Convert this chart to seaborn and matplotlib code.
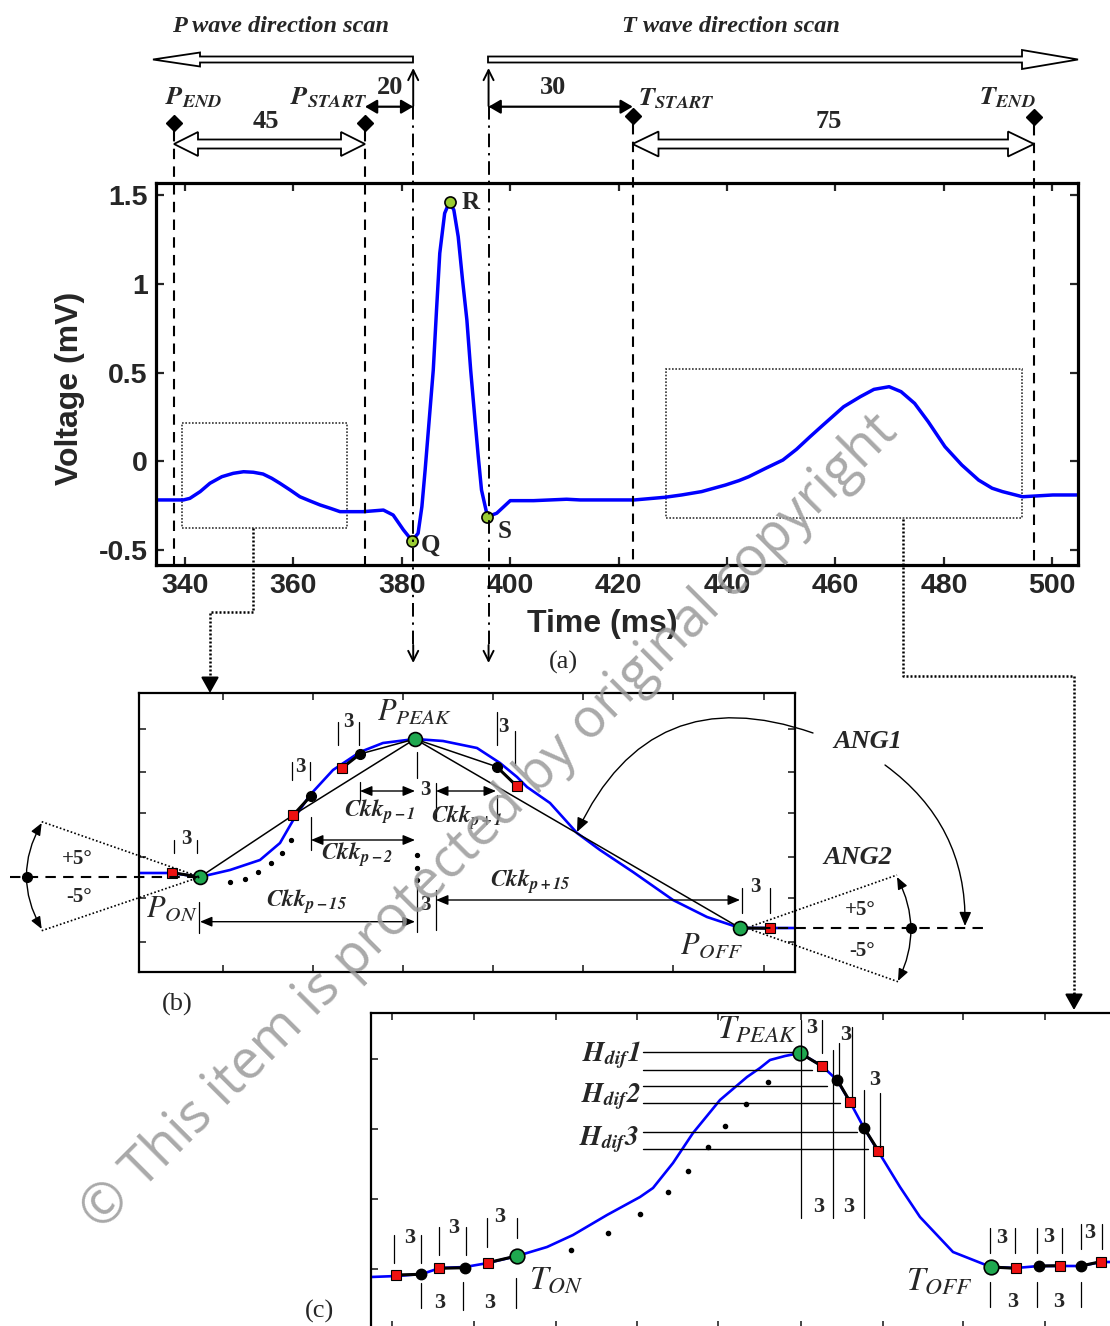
import numpy as np
import pandas as pd
import matplotlib
matplotlib.use("Agg")
import matplotlib.pyplot as plt
import seaborn as sns
from matplotlib.patches import Polygon, Rectangle
from matplotlib.transforms import blended_transform_factory

# ---------------- data: panel (a) ECG beat ----------------
ecg_time = [334.65, 339.7, 340.9, 342.8, 344.6, 346.8, 348.9, 350.8, 352.6, 354.4,
            356.0, 357.5, 359.4, 361.2, 363.1, 364.9, 366.8, 368.6, 372.9, 376.6,
            378.4, 380.3, 381.9, 383.0, 383.7, 384.3, 385.2, 385.8, 386.4, 387.0,
            387.9, 388.8, 389.6, 390.4, 391.2, 392.0, 392.7, 393.5, 394.1, 394.7,
            395.8, 397.5, 400.0, 404.3, 410.4, 412.9, 422.9, 428.5, 431.6, 435.3,
            439.7, 442.2, 444.0, 447.1, 450.3, 452.8, 455.3, 457.7, 461.5, 464.6,
            467.1, 469.9, 472.1, 474.6, 477.1, 480.2, 483.3, 486.4, 488.9, 490.8,
            494.5, 500.1, 504.8]
ecg_mv = [-0.218, -0.218, -0.209, -0.171, -0.124, -0.087, -0.068, -0.059, -0.062, -0.072,
          -0.096, -0.124, -0.162, -0.200, -0.224, -0.246, -0.265, -0.284, -0.284, -0.275,
          -0.303, -0.387, -0.448, -0.406, -0.256, -0.049, 0.289, 0.514, 0.852, 1.172,
          1.397, 1.462, 1.415, 1.265, 1.021, 0.796, 0.514, 0.232, 0.026, -0.162,
          -0.312, -0.293, -0.222, -0.222, -0.214, -0.218, -0.218, -0.203, -0.190, -0.171,
          -0.134, -0.109, -0.087, -0.040, 0.007, 0.067, 0.138, 0.204, 0.307, 0.364,
          0.405, 0.420, 0.392, 0.326, 0.223, 0.082, -0.021, -0.106, -0.152, -0.171,
          -0.200, -0.190, -0.190]
qrs_time = [381.9, 388.8, 395.8]
qrs_mv = [-0.448, 1.462, -0.312]
qrs_names = ["Q", "R", "S"]
a_xticks = [340, 360, 380, 400, 420, 440, 460, 480, 500]
a_yticks = [-0.5, 0, 0.5, 1, 1.5]
a_yticklabels = ["-0.5", "0", "0.5", "1", "1.5"]
marker_names = ["P_END", "P_START", "T_START", "T_END"]
marker_ms = [338.0, 373.2, 422.6, 496.6]
q_line_ms, s_line_ms = 382.1, 396.0
p_box_ms = [339.4, 369.9]
p_box_mv = [-0.378, 0.217]
t_box_ms = [428.7, 494.5]
t_box_mv = [-0.321, 0.518]
window_labels = ["45", "20", "30", "75"]

# ---------------- data: panel (b) P-wave schematic (panel units) ----------------
pwave_x = [139, 172, 200, 230, 260, 280, 295, 310, 333, 360, 383, 415, 443, 477, 500,
           517, 527, 550, 577, 600, 633, 673, 707, 740, 770, 795]
pwave_y = [873, 873, 877, 870, 860, 843, 817, 795, 770, 752, 743, 739, 741, 748, 763,
           777, 787, 803, 833, 850, 872, 900, 917, 928, 928, 928]
b_green_x = [200, 415, 740]
b_green_y = [877, 739, 928]
b_red_x = [172.3, 293.3, 341.7, 516.7, 770]
b_red_y = [872.7, 815, 768.3, 786, 928.3]
b_black_x = [311, 360, 496.7]
b_black_y = [795.7, 754, 766.7]
b_ell_x = [230, 245, 258.3, 270.7, 281.7, 291, 416.7, 416.7, 416.7]
b_ell_y = [881.7, 879, 871.7, 862.7, 852.7, 840, 855, 868.3, 880]
b_xticks = [223, 313, 403, 493, 583, 673, 764]
b_yticks = [729, 771.7, 813.3, 856.7, 898.3, 941.7]

# ---------------- data: panel (c) T-wave schematic (panel units) ----------------
twave_x = [371, 397, 422, 440, 465, 488, 517, 547, 573, 607, 640, 653, 673, 693, 720,
           747, 760, 770, 785, 800, 822, 837, 850, 864, 878, 900, 920, 953, 991, 1016,
           1039, 1060, 1081, 1101, 1115]
twave_y = [1277, 1276, 1274, 1268, 1267, 1263, 1256, 1247, 1235, 1215, 1197, 1188, 1163,
           1133, 1100, 1077, 1068, 1060, 1056, 1053, 1066, 1080, 1102, 1128, 1151, 1187,
           1217, 1252, 1267, 1268, 1266, 1266, 1266, 1262, 1262]
c_green_x = [516.7, 800, 991]
c_green_y = [1256, 1053, 1267]
c_red_x = [396, 439, 487.7, 821.7, 850, 878.3, 1016, 1060, 1100.7]
c_red_y = [1275, 1268.3, 1262.7, 1066, 1101.7, 1150.7, 1268.3, 1265.7, 1261.7]
c_black_x = [420.7, 465, 837.3, 864.3, 1038.7, 1080.7]
c_black_y = [1274.3, 1267.7, 1080, 1128.3, 1266, 1266]
c_ell_x = [570.7, 608.3, 640, 668.3, 688.3, 707.7, 725, 745.7, 768.3]
c_ell_y = [1250, 1232.7, 1214, 1192.3, 1170.7, 1146.7, 1126, 1103.7, 1081.7]
c_xticks = [391.7, 474.3, 556, 636.7, 718.3, 800.7, 882.7, 963.3, 1045, 1127]
c_yticks = [1059.3, 1129.3, 1199, 1269.3]
hdif_y = [1052, 1070, 1086, 1103, 1132, 1149]
hdif_xend = [800, 812, 827, 840, 857, 868]

# ---------------- figure setup ----------------
sns.set_theme(style="ticks")
plt.rcParams['font.family'] = ['Liberation Sans', 'DejaVu Sans']
plt.rcParams['mathtext.fontset'] = 'stix'

W, H = 1110, 1326
fig = plt.figure(figsize=(W / 100, H / 100), dpi=100)
fig.patch.set_facecolor('white')


def rect(l, t, r, b):
    return [l / W, 1 - b / H, (r - l) / W, (b - t) / H]


SERIF = ['Liberation Serif', 'DejaVu Serif']
BLUE = '#0000ff'
GREEN = '#1fa84f'
RED = '#ee1111'

# ---------------- panel (a) ----------------
ax_a = fig.add_axes(rect(156, 183, 1078, 565))
df_a = pd.DataFrame({"Time (ms)": ecg_time, "Voltage (mV)": ecg_mv})
sns.lineplot(data=df_a, x="Time (ms)", y="Voltage (mV)", ax=ax_a, color=BLUE,
             lw=2.5, estimator=None, sort=False)
ax_a.plot(qrs_time, qrs_mv, 'o', ms=8, mfc='#9acd32', mec='black', mew=1.2, zorder=5)
label_off = {"Q": (3.4, -0.026), "R": (3.8, -0.005), "S": (3.2, -0.085)}
for nm, tx, vy in zip(qrs_names, qrs_time, qrs_mv):
    off = label_off[nm]
    ax_a.text(tx + off[0], vy + off[1], nm, fontsize=18, fontweight='bold',
              family=SERIF, ha='center', va='center')
for xs, ys in [(p_box_ms, p_box_mv), (t_box_ms, t_box_mv)]:
    ax_a.add_patch(Rectangle((xs[0], ys[0]), xs[1] - xs[0], ys[1] - ys[0], fill=False,
                             ls=(0, (1, 1)), lw=1.2, ec='#333333'))
ax_a.set_xlim(334.65, 504.74)
ax_a.set_ylim(-0.5845, 1.5676)
ax_a.set_xticks(a_xticks)
ax_a.set_xticklabels([str(v) for v in a_xticks])
ax_a.set_yticks(a_yticks)
ax_a.set_yticklabels(a_yticklabels)
ax_a.tick_params(direction='in', length=6, width=1.6, top=True, right=True,
                 labelsize=20.5, pad=6)
for lab in ax_a.get_xticklabels() + ax_a.get_yticklabels():
    lab.set_fontweight('bold')
for sp in ax_a.spines.values():
    sp.set_linewidth(2.3)
    sp.set_color('black')
ax_a.set_xlabel("Time (ms)", fontsize=23, fontweight='bold')
ax_a.set_ylabel("Voltage (mV)", fontsize=23, fontweight='bold')
ax_a.xaxis.label.set_va('center')
ax_a.xaxis.set_label_coords(0.484, -0.154)
ax_a.yaxis.label.set_va('center')
ax_a.yaxis.set_label_coords(-0.093, 0.463)

# ---------------- panel (b) ----------------
ax_b = fig.add_axes(rect(139, 693, 795, 972))
sns.lineplot(x=pwave_x, y=pwave_y, ax=ax_b, color=BLUE, lw=1.9, estimator=None, sort=False)
chords = [([200, 293.3, 415], [877, 815, 739]), ([341.7, 360, 415], [768.3, 754, 739]),
          ([415, 496.7, 516.7], [739, 766.7, 786]), ([415, 740], [739, 928])]
for cx, cy in chords:
    ax_b.plot(cx, cy, color='black', lw=1.1, zorder=3)
for cx, cy in [([172.3, 200], [872.7, 877]), ([293.3, 311], [815, 795.7]),
               ([341.7, 360], [768.3, 754]), ([496.7, 516.7], [766.7, 786]),
               ([740, 770], [928, 928.3])]:
    ax_b.plot(cx, cy, color='black', lw=2.2, zorder=3)
ax_b.plot(b_ell_x, b_ell_y, 'o', ms=2.8, color='black', zorder=4)
ax_b.plot(b_black_x, b_black_y, 'o', ms=7, color='black', zorder=5)
ax_b.plot(b_red_x, b_red_y, 's', ms=7, mfc=RED, mec='black', mew=0.8, zorder=5)
ax_b.plot(b_green_x, b_green_y, 'o', ms=10, mfc=GREEN, mec='black', mew=1.2, zorder=6)
ax_b.set_xlim(139, 795)
ax_b.set_ylim(972, 693)
ax_b.set_xticks(b_xticks)
ax_b.set_yticks(b_yticks)
ax_b.tick_params(direction='in', length=5, width=1.2, top=True, right=True,
                 labelbottom=False, labelleft=False)
ax_b.set_xlabel("")
ax_b.set_ylabel("")
for sp in ax_b.spines.values():
    sp.set_linewidth(1.6)
    sp.set_color('black')

# ---------------- panel (c) ----------------
ax_c = fig.add_axes(rect(371, 1013, 1140, 1328))
sns.lineplot(x=twave_x, y=twave_y, ax=ax_c, color=BLUE, lw=1.9, estimator=None, sort=False)
for cx, cy in [([396, 420.7], [1275, 1274.3]), ([439, 465], [1268.3, 1267.7]),
               ([487.7, 516.7], [1262.7, 1256]), ([800, 821.7], [1053, 1066]),
               ([837.3, 850], [1080, 1101.7]), ([864.3, 878.3], [1128.3, 1150.7]),
               ([991, 1016], [1267, 1268.3]), ([1038.7, 1060], [1266, 1265.7]),
               ([1080.7, 1100.7], [1266, 1261.7])]:
    ax_c.plot(cx, cy, color='black', lw=2.2, zorder=3)
for yy, xe in zip(hdif_y, hdif_xend):
    ax_c.plot([643, xe], [yy, yy], color='black', lw=1.0, zorder=2)
ax_c.plot(c_ell_x, c_ell_y, 'o', ms=3, color='black', zorder=4)
ax_c.plot(c_black_x, c_black_y, 'o', ms=7.5, color='black', zorder=5)
ax_c.plot(c_red_x, c_red_y, 's', ms=7.5, mfc=RED, mec='black', mew=0.8, zorder=5)
ax_c.plot(c_green_x, c_green_y, 'o', ms=10.5, mfc=GREEN, mec='black', mew=1.2, zorder=6)
ax_c.set_xlim(371, 1140)
ax_c.set_ylim(1328, 1013)
ax_c.set_xticks(c_xticks)
ax_c.set_yticks(c_yticks)
ax_c.tick_params(direction='in', length=5, width=1.2, top=True, right=True,
                 labelbottom=False, labelleft=False)
ax_c.set_xlabel("")
ax_c.set_ylabel("")
for sp in ax_c.spines.values():
    sp.set_linewidth(1.6)
    sp.set_color('black')

# ---------------- overlay (pixel coordinates) ----------------
ax_o = fig.add_axes([0, 0, 1, 1])
ax_o.set_xlim(0, W)
ax_o.set_ylim(H, 0)
ax_o.axis('off')
ax_o.patch.set_alpha(0)
trans = blended_transform_factory(ax_a.transData, ax_o.transData)


def T(x, y, s, size, ha='center', va='center', **kw):
    kw.setdefault('family', SERIF)
    ax_o.text(x, y, s, fontsize=size, ha=ha, va=va, **kw)


def hollow_arrow(x_tail, x_tip, y, sh, hh, hl, lw=1.3):
    d = 1 if x_tip > x_tail else -1
    b = x_tip - d * hl
    pts = [(x_tail, y - sh), (b, y - sh), (b, y - hh), (x_tip, y), (b, y + hh),
           (b, y + sh), (x_tail, y + sh)]
    ax_o.add_patch(Polygon(pts, closed=True, fc='white', ec='black', lw=lw, zorder=3))


def hollow_double(x0, x1, y, sh, hh, hl, lw=1.3):
    pts = [(x0, y), (x0 + hl, y - hh), (x0 + hl, y - sh), (x1 - hl, y - sh), (x1 - hl, y - hh),
           (x1, y), (x1 - hl, y + hh), (x1 - hl, y + sh), (x0 + hl, y + sh), (x0 + hl, y + hh)]
    ax_o.add_patch(Polygon(pts, closed=True, fc='white', ec='black', lw=lw, zorder=3))


def arrow(p0, p1, style='-|>', lw=1.0, rad=0.0, trf=None, hl=0.5, hw=0.25):
    t = trf if trf is not None else ax_o.transData
    ax_o.annotate('', xy=p1, xycoords=t, xytext=p0, textcoords=t,
                  arrowprops=dict(arrowstyle=f'{style},head_length={hl},head_width={hw}',
                                  lw=lw, color='black', shrinkA=0, shrinkB=0,
                                  connectionstyle=f'arc3,rad={rad}'))


# top titles and scan arrows
T(281, 27, "P wave direction scan", 17.5, fontweight='bold', style='italic')
T(731, 27, "T wave direction scan", 17.5, fontweight='bold', style='italic')
hollow_arrow(413, 153, 59.5, 3, 7, 47)
hollow_arrow(488, 1078, 59.5, 3, 9.5, 56)

# boundary markers and dashed lines
marker_y = [122.5, 122.5, 116, 116.5]
for ms_, my in zip(marker_ms, marker_y):
    ax_o.plot([ms_], [my], 'D', ms=8, color='black', transform=trans, zorder=5)
    ax_o.plot([ms_, ms_], [my + 8, 565], color='black', lw=1.5,
              ls=(0, (5, 3.5)), transform=trans)
T(194, 98, r"$\mathbfit{P}_{\mathbfit{END}}$", 19)
T(329, 98, r"$\mathbfit{P}_{\mathbfit{START}}$", 19)
T(676, 99, r"$\mathbfit{T}_{\mathbfit{START}}$", 19)
T(1007, 98, r"$\mathbfit{T}_{\mathbfit{END}}$", 19)
hollow_double(174, 365, 144, 4.5, 12, 24)
hollow_double(632.5, 1034, 144, 4.5, 12.5, 26)
T(266, 122, window_labels[0], 19, fontweight='bold')
T(829, 122, window_labels[3], 19, fontweight='bold')
T(390, 87, window_labels[1], 19, fontweight='bold')
T(553, 87, window_labels[2], 19, fontweight='bold')

# Q / S dash-dot reference lines with arrows
for xm in [q_line_ms, s_line_ms]:
    ax_o.plot([xm, xm], [106, 650], color='black', lw=1.4,
              ls=(0, (7, 3, 1.2, 3)), transform=trans)
    arrow((xm, 106), (xm, 68), style='->', lw=1.4, trf=trans, hl=0.6, hw=0.3)
    arrow((xm, 645), (xm, 663), style='->', lw=1.4, trf=trans, hl=0.6, hw=0.3)
arrow((373.2, 106.7), (q_line_ms, 106.7), style='<|-|>', lw=1.6, trf=trans, hl=0.6, hw=0.35)
arrow((s_line_ms, 106.7), (422.6, 106.7), style='<|-|>', lw=1.6, trf=trans, hl=0.6, hw=0.35)

T(563, 662, "(a)", 19)

# connectors from zoom boxes
ax_o.plot([253, 253, 210, 210], [528, 612, 612, 680], color='black', lw=1.8, ls=(0, (0.8, 0.8)))
arrow((210, 678), (210, 693), style='-|>', lw=1.5, hl=0.8, hw=0.45)
ax_o.plot([903, 903, 1074, 1074], [519, 676, 676, 996], color='black', lw=1.8, ls=(0, (0.8, 0.8)))
arrow((1074, 994), (1074, 1010), style='-|>', lw=1.5, hl=0.8, hw=0.45)

# ---- panel (b) annotations ----
vlines_b = [(174, 840, 853), (197, 840, 853), (292, 762, 780), (310, 762, 780),
            (337.7, 722, 745), (359.3, 722, 745), (496.7, 712, 745), (515, 731, 765),
            (360, 782, 800), (416.7, 752, 778), (416.7, 887, 932), (436, 783, 818),
            (436, 890, 930), (311, 817, 850), (199.3, 902, 933), (742, 888, 913),
            (770, 888, 913), (496.7, 795, 818)]
for x, y0, y1 in vlines_b:
    ax_o.plot([x, x], [y0, y1], color='black', lw=0.9)
for x, y in [(186, 839), (300, 767), (348, 722), (503, 727), (425, 790), (425, 905), (755, 887)]:
    T(x, y, "3", 15, fontweight='bold')
arrow((360, 791), (415, 791), style='<|-|>', lw=1.0, hl=0.6, hw=0.25)
arrow((436, 791), (496, 791), style='<|-|>', lw=1.0, hl=0.6, hw=0.25)
arrow((311, 840), (415, 840), style='<|-|>', lw=1.0, hl=0.6, hw=0.25)
arrow((200, 921.7), (415, 921.7), style='<|-|>', lw=1.0, hl=0.6, hw=0.25)
arrow((436, 900), (740, 900), style='<|-|>', lw=1.0, hl=0.6, hw=0.25)
T(380, 812, r"$\mathbfit{Ckk}_{\mathbfit{p-1}}$", 17)
T(467, 818, r"$\mathbfit{Ckk}_{\mathbfit{p+1}}$", 17)
T(357, 855, r"$\mathbfit{Ckk}_{\mathbfit{p-2}}$", 17)
T(307, 902, r"$\mathbfit{Ckk}_{\mathbfit{p-15}}$", 17)
T(530, 882, r"$\mathbfit{Ckk}_{\mathbfit{p+15}}$", 17)
T(415, 713, r"$P_{PEAK}$", 22)
T(172, 909, r"$P_{ON}$", 22)
T(711, 946, r"$P_{OFF}$", 22)

# left angle wedge
ax_o.plot([10, 200], [876.7, 876.7], color='black', lw=1.5, ls=(0, (5, 3.5)))
ax_o.plot([41.7, 200], [821.7, 877], color='black', lw=1.2, ls=(0, (1, 1.3)))
ax_o.plot([41.7, 200], [930.7, 877], color='black', lw=1.2, ls=(0, (1, 1.3)))
ax_o.plot([26.7], [876.7], 'o', ms=7, color='black')
arrow((41.7, 823), (41.7, 929), style='<|-|>', lw=1.0, rad=0.28, hl=0.6, hw=0.25)
T(77, 859, "+5°", 15, fontweight='bold')
T(79, 897, "-5°", 15, fontweight='bold')

# right angle wedge
ax_o.plot([760, 983], [928.3, 928.3], color='black', lw=1.5, ls=(0, (5, 3.5)))
ax_o.plot([752, 897], [926, 875], color='black', lw=1.2, ls=(0, (1, 1.3)))
ax_o.plot([752, 898], [930, 981.7], color='black', lw=1.2, ls=(0, (1, 1.3)))
ax_o.plot([910.7], [928.3], 'o', ms=7, color='black')
arrow((897, 877), (898, 981), style='<|-|>', lw=1.0, rad=-0.25, hl=0.6, hw=0.25)
T(860, 910, "+5°", 15, fontweight='bold')
T(862, 951, "-5°", 15, fontweight='bold')
T(858, 857, "ANG2", 19, style='italic', fontweight='bold')
T(868, 741, "ANG1", 19, style='italic', fontweight='bold')
arrow((813, 733), (577, 832), style='-|>', lw=1.0, rad=0.45, hl=0.7, hw=0.3)
arrow((885, 765), (965, 926), style='-|>', lw=1.0, rad=-0.26, hl=0.7, hw=0.3)
T(177, 1004, "(b)", 19)

# ---- panel (c) annotations ----
vlines_c = [(394.3, 1235, 1263), (420.7, 1235, 1263), (439, 1227, 1255), (466, 1227, 1255),
            (486.7, 1218, 1247), (517.3, 1218, 1238), (421, 1283, 1308), (463.3, 1282, 1310),
            (515.7, 1278, 1308),
            (800.7, 1020, 1218), (833.3, 1050, 1218), (864, 1090, 1218),
            (821.7, 1020, 1053), (839, 1043, 1077), (851.7, 1027, 1097), (880, 1093, 1147),
            (990, 1228, 1253), (1015, 1228, 1253), (1036.7, 1228, 1253), (1061.7, 1228, 1253),
            (1080.7, 1224, 1249), (1101.7, 1224, 1249),
            (990, 1282, 1307), (1036.7, 1282, 1307), (1080.7, 1282, 1307)]
for x, y0, y1 in vlines_c:
    ax_o.plot([x, x], [y0, y1], color='black', lw=0.9)
for x, y in [(409.3, 1238), (453.3, 1228), (500, 1217), (439.3, 1303), (490, 1303),
             (811.7, 1028), (846, 1035), (874.3, 1080), (818.3, 1207), (848.3, 1207),
             (1002, 1238), (1049, 1237), (1090, 1233), (1013, 1302), (1059, 1302)]:
    T(x, y, "3", 16, fontweight='bold')
T(641, 1055, r"$\mathbfit{H}_{\mathbfit{dif}}\mathbfit{1}$", 20, ha='right')
T(641, 1097, r"$\mathbfit{H}_{\mathbfit{dif}}\mathbfit{2}$", 20, ha='right')
T(639, 1140, r"$\mathbfit{H}_{\mathbfit{dif}}\mathbfit{3}$", 20, ha='right')
T(757, 1030, r"$T_{PEAK}$", 24)
T(556, 1280, r"$T_{ON}$", 24)
T(939, 1281, r"$T_{OFF}$", 24)
T(320, 1311, "(c)", 19)

# watermark
ax_o.text(490, 822, "© This item is protected by original copyright", rotation=45,
          rotation_mode='anchor', ha='center', va='center', fontsize=39,
          color='#9a9a9a', alpha=0.85, family=['Open Sans', 'DejaVu Sans'], zorder=20)

fig.savefig("out.png", dpi=100, facecolor='white')
